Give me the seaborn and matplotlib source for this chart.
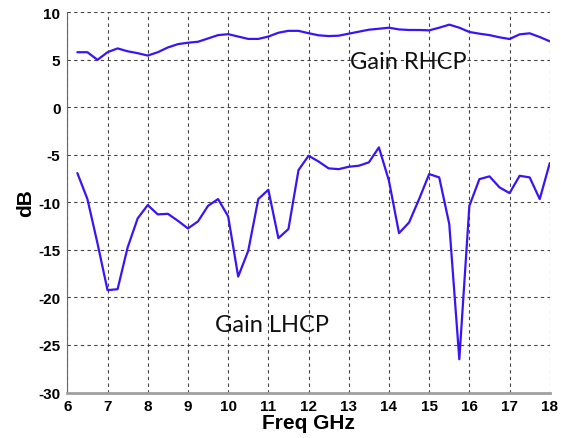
import numpy as np
import pandas as pd
import matplotlib
matplotlib.use("Agg")
import matplotlib.pyplot as plt
from matplotlib.ticker import MultipleLocator
import seaborn as sns

# Frequency sweep, 6.25 .. 18 GHz in 0.25 GHz steps
freq_ghz = [6.25, 6.5, 6.75, 7.0, 7.25, 7.5, 7.75, 8.0, 8.25, 8.5, 8.75, 9.0,
            9.25, 9.5, 9.75, 10.0, 10.25, 10.5, 10.75, 11.0, 11.25, 11.5, 11.75, 12.0,
            12.25, 12.5, 12.75, 13.0, 13.25, 13.5, 13.75, 14.0, 14.25, 14.5, 14.75, 15.0,
            15.25, 15.5, 15.75, 16.0, 16.25, 16.5, 16.75, 17.0, 17.25, 17.5, 17.75, 18.0]

gain_rhcp = [5.8, 5.8, 5.0, 5.8, 6.2, 5.9, 5.7, 5.45, 5.8, 6.3, 6.65, 6.8,
             6.9, 7.25, 7.6, 7.7, 7.45, 7.2, 7.2, 7.45, 7.85, 8.05, 8.05, 7.8,
             7.58, 7.5, 7.54, 7.75, 7.96, 8.17, 8.27, 8.38, 8.2, 8.14, 8.14, 8.1,
             8.38, 8.7, 8.38, 7.93, 7.75, 7.6, 7.37, 7.19, 7.68, 7.79, 7.4, 6.95]

gain_lhcp = [-6.92, -9.65, -14.3, -19.23, -19.13, -14.74, -11.68, -10.28, -11.26, -11.2, -11.93, -12.74,
             -12.0, -10.36, -9.65, -11.47, -17.8, -15.09, -9.65, -8.67, -13.76, -12.8, -6.6, -5.09,
             -5.7, -6.42, -6.5, -6.25, -6.14, -5.79, -4.21, -7.73, -13.23, -12.11, -9.65, -7.02,
             -7.37, -12.28, -26.5, -10.36, -7.55, -7.26, -8.42, -9.02, -7.2, -7.37, -9.65, -5.86]

x_ticks = list(range(6, 19))
y_ticks = list(range(-30, 11, 5))

df = pd.DataFrame({"freq": freq_ghz * 2,
                   "gain": gain_rhcp + gain_lhcp,
                   "pol": ["RHCP"] * len(freq_ghz) + ["LHCP"] * len(freq_ghz)})

sns.set_style("white")
plt.rcParams["font.family"] = ["Liberation Sans", "DejaVu Sans"]
plt.rcParams["axes.unicode_minus"] = False

fig = plt.figure(figsize=(5.61, 4.39), dpi=100)
ax = fig.add_axes([0.12, 0.1036, 0.86, 0.8661])

line_color = "#3a14f5"
sns.lineplot(data=df, x="freq", y="gain", units="pol", estimator=None,
             color=line_color, linewidth=1.6, ax=ax, legend=False)

ax.set_xlim(6, 18)
ax.set_ylim(-30, 10)
ax.set_xticks(x_ticks)
ax.set_yticks(y_ticks)
ax.xaxis.set_minor_locator(MultipleLocator(0.5))
ax.yaxis.set_minor_locator(MultipleLocator(1))

ax.grid(True, which="major", color="#444444", linestyle=(0, (3, 3)), linewidth=0.8)
for side in ("top", "right"):
    ax.spines[side].set_visible(False)
ax.spines["left"].set_color("#666666")
ax.spines["left"].set_linewidth(0.8)
ax.spines["bottom"].set_color("#a0a0a0")
ax.spines["bottom"].set_linewidth(2.0)

ax.tick_params(axis="both", which="major", length=4, width=0.8, color="#555555",
               labelsize=11, pad=1, direction="out", labelcolor="black")
ax.tick_params(axis="both", which="minor", length=3, width=0.8, color="#555555",
               direction="in")
for lab in ax.get_xticklabels() + ax.get_yticklabels():
    lab.set_fontweight("bold")

ax.set_xlabel("Freq GHz", fontsize=15, fontweight="bold", labelpad=0, color="black")
ax.set_ylabel("dB", fontsize=15, fontweight="bold", color="black")
ax.yaxis.set_label_coords(-0.066, 0.5)

ax.text(13.03, 4.87, "Gain RHCP", fontsize=17, family=["Lato", "DejaVu Sans"],
        va="center", ha="left", color="#111111")
ax.text(9.67, -22.8, "Gain LHCP", fontsize=17, family=["Lato", "DejaVu Sans"],
        va="center", ha="left", color="#111111")

fig.savefig("out.png", dpi=100)
